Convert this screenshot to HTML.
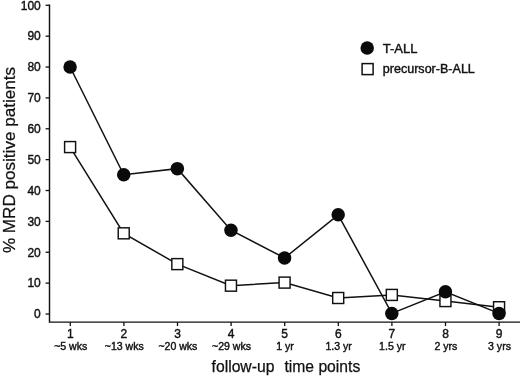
<!DOCTYPE html><html><head><meta charset="utf-8"><style>html,body{margin:0;padding:0;background:#fff;overflow:hidden;}svg{display:block;filter:grayscale(1);}text{font-family:"Liberation Sans",sans-serif;fill:#111;stroke:#111;stroke-width:0.4px;}</style></head><body>
<svg width="520" height="376" viewBox="0 0 520 376">
<rect width="520" height="376" fill="#fff"/>
<g stroke="#111" stroke-width="1.45" fill="none">
<path d="M49.5 4.6 V322.1 H520"/>
</g><g stroke="#111" stroke-width="1.3" fill="none">
<path d="M45.6 314.00 H49.5"/>
<path d="M45.6 283.13 H49.5"/>
<path d="M45.6 252.26 H49.5"/>
<path d="M45.6 221.39 H49.5"/>
<path d="M45.6 190.52 H49.5"/>
<path d="M45.6 159.65 H49.5"/>
<path d="M45.6 128.78 H49.5"/>
<path d="M45.6 97.91 H49.5"/>
<path d="M45.6 67.04 H49.5"/>
<path d="M45.6 36.17 H49.5"/>
<path d="M45.6 5.30 H49.5"/>
<path d="M70.30 322.1 V326"/>
<path d="M123.90 322.1 V326"/>
<path d="M177.50 322.1 V326"/>
<path d="M231.10 322.1 V326"/>
<path d="M284.70 322.1 V326"/>
<path d="M338.30 322.1 V326"/>
<path d="M391.90 322.1 V326"/>
<path d="M445.50 322.1 V326"/>
<path d="M499.10 322.1 V326"/>
</g>
<text x="40.8" y="318.30" font-size="12" text-anchor="end">0</text>
<text x="40.8" y="287.43" font-size="12" text-anchor="end">10</text>
<text x="40.8" y="256.56" font-size="12" text-anchor="end">20</text>
<text x="40.8" y="225.69" font-size="12" text-anchor="end">30</text>
<text x="40.8" y="194.82" font-size="12" text-anchor="end">40</text>
<text x="40.8" y="163.95" font-size="12" text-anchor="end">50</text>
<text x="40.8" y="133.08" font-size="12" text-anchor="end">60</text>
<text x="40.8" y="102.21" font-size="12" text-anchor="end">70</text>
<text x="40.8" y="71.34" font-size="12" text-anchor="end">80</text>
<text x="40.8" y="40.47" font-size="12" text-anchor="end">90</text>
<text x="40.8" y="9.60" font-size="12" text-anchor="end">100</text>
<text x="70.30" y="338.3" font-size="12" text-anchor="middle">1</text>
<text x="70.70" y="350.3" font-size="10.55" text-anchor="middle">~5 wks</text>
<text x="123.90" y="338.3" font-size="12" text-anchor="middle">2</text>
<text x="124.30" y="350.3" font-size="10.55" text-anchor="middle">~13 wks</text>
<text x="177.50" y="338.3" font-size="12" text-anchor="middle">3</text>
<text x="177.90" y="350.3" font-size="10.55" text-anchor="middle">~20 wks</text>
<text x="231.10" y="338.3" font-size="12" text-anchor="middle">4</text>
<text x="231.50" y="350.3" font-size="10.55" text-anchor="middle">~29 wks</text>
<text x="284.70" y="338.3" font-size="12" text-anchor="middle">5</text>
<text x="285.10" y="350.3" font-size="10.55" text-anchor="middle">1 yr</text>
<text x="338.30" y="338.3" font-size="12" text-anchor="middle">6</text>
<text x="338.70" y="350.3" font-size="10.55" text-anchor="middle">1.3 yr</text>
<text x="391.90" y="338.3" font-size="12" text-anchor="middle">7</text>
<text x="392.30" y="350.3" font-size="10.55" text-anchor="middle">1.5 yr</text>
<text x="445.50" y="338.3" font-size="12" text-anchor="middle">8</text>
<text x="445.90" y="350.3" font-size="10.55" text-anchor="middle">2 yrs</text>
<text x="499.10" y="338.3" font-size="12" text-anchor="middle">9</text>
<text x="499.50" y="350.3" font-size="10.55" text-anchor="middle">3 yrs</text>
<text transform="translate(14.7 160) rotate(-90)" font-size="17.1" text-anchor="middle" style="stroke-width:0.25px">% MRD positive patients</text>
<text x="211.6" y="371.6" font-size="15.7" style="stroke-width:0.25px">follow-up</text>
<text x="284.4" y="371.6" font-size="15.7" style="stroke-width:0.25px">time points</text>
<polyline points="70.10,147.08 123.72,233.32 177.34,264.12 230.96,285.68 284.58,282.60 338.20,298.00 391.82,294.92 445.44,301.08 499.06,307.24" fill="none" stroke="#111" stroke-width="1.5"/>
<polyline points="70.10,67.00 123.72,174.80 177.34,168.64 230.96,230.24 284.58,257.96 338.20,214.84 391.82,313.40 445.44,291.84 499.06,313.40" fill="none" stroke="#111" stroke-width="1.5"/>
<rect x="64.60" y="141.58" width="11" height="11" fill="#fff" stroke="#111" stroke-width="1.45"/>
<rect x="118.22" y="227.82" width="11" height="11" fill="#fff" stroke="#111" stroke-width="1.45"/>
<rect x="171.84" y="258.62" width="11" height="11" fill="#fff" stroke="#111" stroke-width="1.45"/>
<rect x="225.46" y="280.18" width="11" height="11" fill="#fff" stroke="#111" stroke-width="1.45"/>
<rect x="279.08" y="277.10" width="11" height="11" fill="#fff" stroke="#111" stroke-width="1.45"/>
<rect x="332.70" y="292.50" width="11" height="11" fill="#fff" stroke="#111" stroke-width="1.45"/>
<rect x="386.32" y="289.42" width="11" height="11" fill="#fff" stroke="#111" stroke-width="1.45"/>
<rect x="439.94" y="295.58" width="11" height="11" fill="#fff" stroke="#111" stroke-width="1.45"/>
<rect x="493.56" y="301.74" width="11" height="11" fill="#fff" stroke="#111" stroke-width="1.45"/>
<circle cx="70.10" cy="67.00" r="6.75" fill="#0a0a0a"/>
<circle cx="123.72" cy="174.80" r="6.75" fill="#0a0a0a"/>
<circle cx="177.34" cy="168.64" r="6.75" fill="#0a0a0a"/>
<circle cx="230.96" cy="230.24" r="6.75" fill="#0a0a0a"/>
<circle cx="284.58" cy="257.96" r="6.75" fill="#0a0a0a"/>
<circle cx="338.20" cy="214.84" r="6.75" fill="#0a0a0a"/>
<circle cx="391.82" cy="313.40" r="6.75" fill="#0a0a0a"/>
<circle cx="445.44" cy="291.84" r="6.75" fill="#0a0a0a"/>
<circle cx="499.06" cy="313.40" r="6.75" fill="#0a0a0a"/>
<circle cx="367.2" cy="48" r="6.75" fill="#0a0a0a"/>
<rect x="362.1" y="63.6" width="11" height="11" fill="#fff" stroke="#111" stroke-width="1.5"/>
<text x="382.8" y="52.9" font-size="13">T-ALL</text>
<text x="382.8" y="73.1" font-size="12.55">precursor-B-ALL</text>
</svg></body></html>
